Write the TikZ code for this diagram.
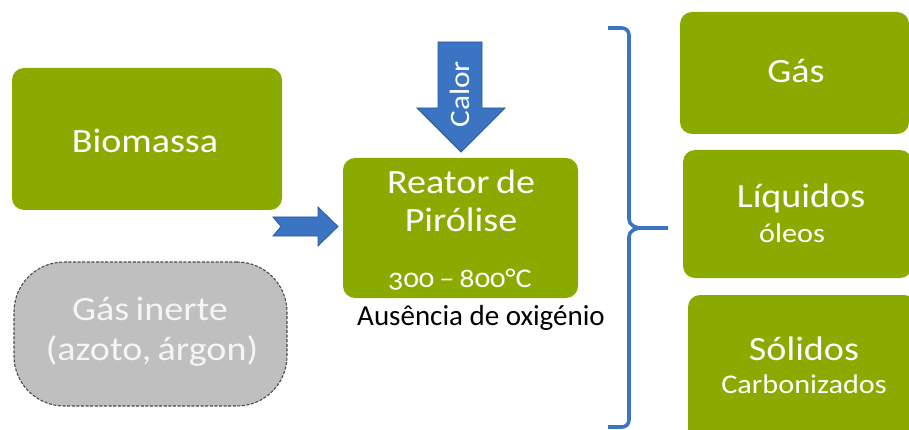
\documentclass[tikz,border=0pt]{standalone}
\usepackage{fontspec}
\setmainfont{Carlito}[FakeStretch=1.12, Numbers=OldStyle, WordSpace=0.75]
\newfontfamily\plainfont{Carlito}
\definecolor{leaf}{RGB}{138,170,0}
\definecolor{flowblue}{RGB}{58,116,194}
\definecolor{flowedge}{RGB}{42,88,158}
\definecolor{inertgray}{RGB}{191,191,191}
\definecolor{inertedge}{RGB}{80,72,64}
\definecolor{paletext}{RGB}{245,245,245}
\tikzset{
  greenbox/.style={fill=leaf, draw=none, rounded corners=12pt, inner sep=0pt},
  inertbox/.style={fill=inertgray, draw=inertedge, line width=1.1pt,
    dash pattern=on 3pt off 1.6pt, rounded corners=50pt, inner sep=0pt},
  lbl/.style={anchor=base, inner sep=0pt, text=white, font=\fontsize{34}{40}\selectfont},
  sublbl/.style={anchor=base, inner sep=0pt, text=white, font=\fontsize{27}{32}\selectfont},
  blockarrow/.style={fill=flowblue, draw=flowedge, line width=0.8pt, line join=miter},
  bracket/.style={draw=flowblue, line width=3.6pt}
}
\begin{document}
\begin{tikzpicture}[x=1pt,y=-1pt]
\useasboundingbox (0,0) rectangle (909,430);
\clip (0,0) rectangle (909,430);

% input boxes
\node[greenbox, minimum width=270pt, minimum height=142pt] (bio) at (147,139) {};
\node[inertbox, minimum width=273pt, minimum height=144pt] (inert) at (150.5,334) {};

% reactor
\node[greenbox, minimum width=235pt, minimum height=140pt] (reactor) at (460.5,228) {};

% products
\node[greenbox, minimum width=229pt, minimum height=122pt] (gas) at (794.5,73) {};
\node[greenbox, minimum width=229pt, minimum height=128pt] (liquid) at (797.5,214) {};
\node[greenbox, minimum width=228pt, minimum height=155pt] (solid) at (802,372.5) {};

% feed arrow into the reactor
\coordinate (feedtail) at (273,226.5);
\coordinate (feedtip) at (338,226.5);
\draw[blockarrow] (feedtail) ++(0,-9.5) -- (318,217) -- (318,207) -- (feedtip)
  -- (318,246) -- (318,236) -- (273,236) -- (281,226.5) -- cycle;

% heat arrow
\coordinate (heattip) at (461,152);
\draw[blockarrow] (438,42) -- (482,42) -- (482,108) -- (505,108) -- (heattip)
  -- (417,108) -- (438,108) -- cycle;
\node[rotate=90, inner sep=0pt, text=white, font=\fontsize{28}{32}\selectfont] (heat) at (460,94.5) {Calor};

% bracket grouping the products
\coordinate (brtop) at (608,28);
\coordinate (brmid) at (668,228);
\coordinate (brbot) at (608,427);
\draw[bracket] (brtop) -- (622,28) to[out=0,in=90] (629,35) -- (629,219)
  to[out=-90,in=180] (641,228) -- (brmid);
\draw[bracket] (641,228) to[out=180,in=90] (629,237) -- (629,420)
  to[out=-90,in=0] (622,427) -- (brbot);

% labels
\node[lbl] (biot) at (145,153) {Biomassa};
\node[lbl, text=paletext] (inert1) at (150,320) {Gás inerte};
\node[lbl, text=paletext] (inert2) at (152,360) {(azoto, árgon)};
\node[lbl] (reac1) at (461,194) {Reator de};
\node[lbl] (reac2) at (461,232) {Pirólise};
\node[sublbl] (temp) at (460,287) {300 – 800°C};
\node[anchor=base, inner sep=0pt, text=black, font=\plainfont\fontsize{29}{34}\selectfont] (oxy) at (481,325) {Ausência de oxigénio};
\node[lbl] (gast) at (796,83) {Gás};
\node[lbl] (liq1) at (801,208) {Líquidos};
\node[sublbl] (liq2) at (792,243) {óleos};
\node[lbl] (sol1) at (804,360) {Sólidos};
\node[sublbl] (sol2) at (804,393) {Carbonizados};
\end{tikzpicture}
\end{document}
